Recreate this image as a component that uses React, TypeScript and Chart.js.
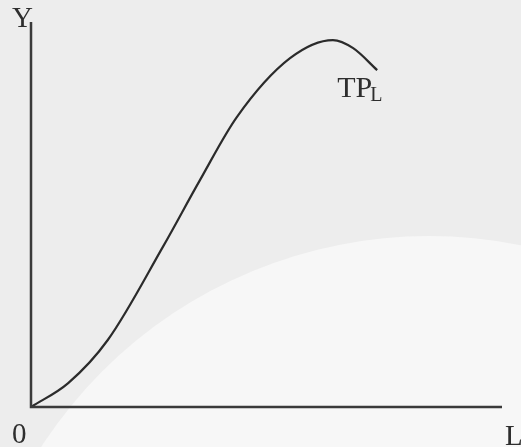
import React, { useEffect, useRef } from "react";
import { Chart, registerables } from "chart.js";

Chart.register(...registerables);

// Labour input (L) and total product (TP_L), in arbitrary units 0–100
const laborInput = [0, 7.9, 16.3, 28.0, 35.9, 43.7, 55.0, 64.1, 68.4, 73.5];
const totalProduct = [0, 6.2, 17.4, 41.6, 59.0, 75.3, 90.6, 95.3, 93.2, 87.5];

const axisLabelX = "L";
const axisLabelY = "Y";
const originLabel = "0";
const curveLabel = "TP";
const curveSub = "L";

const SERIF = '"Liberation Serif", "Times New Roman", Times, serif';

const decorPlugin = {
  id: "decor",
  beforeDraw(chart: any) {
    const { ctx, width, height } = chart;
    ctx.save();
    ctx.fillStyle = "#ededed";
    ctx.fillRect(0, 0, width, height);
    ctx.fillStyle = "#f7f7f7";
    ctx.beginPath();
    ctx.arc(429, 698, 462, 0, Math.PI * 2);
    ctx.fill();
    ctx.restore();
  },
  afterDatasetsDraw(chart: any) {
    const { ctx, chartArea } = chart;
    const { left, right, top, bottom } = chartArea;
    ctx.save();
    ctx.strokeStyle = "#3a3a3a";
    ctx.lineWidth = 2.5;
    ctx.beginPath();
    ctx.moveTo(left, top);
    ctx.lineTo(left, bottom);
    ctx.lineTo(right, bottom);
    ctx.stroke();

    ctx.fillStyle = "#2e2e2e";
    ctx.textBaseline = "alphabetic";
    ctx.textAlign = "left";
    ctx.font = `29px ${SERIF}`;
    ctx.fillText(axisLabelY, left - 19, top + 5);
    ctx.fillText(originLabel, left - 19, bottom + 36);
    ctx.fillText(axisLabelX, right + 3, bottom + 38);

    const xs = chart.scales.x;
    const ys = chart.scales.y;
    const lx = xs.getPixelForValue(laborInput[laborInput.length - 1]);
    const ly = ys.getPixelForValue(totalProduct[totalProduct.length - 1]);
    ctx.font = `30px ${SERIF}`;
    const tx = lx - 40;
    const ty = ly + 27;
    ctx.fillText(curveLabel, tx, ty);
    const w = ctx.measureText(curveLabel).width;
    ctx.font = `20px ${SERIF}`;
    ctx.fillText(curveSub, tx + w - 2, ty + 4);
    ctx.restore();
  },
};

export default function App() {
  const ref = useRef<HTMLCanvasElement>(null);
  useEffect(() => {
    document.body.style.margin = "0";
    const canvas = ref.current;
    if (!canvas) return;
    const chart = new Chart(canvas, {
      type: "line",
      data: {
        datasets: [
          {
            data: laborInput.map((x, i) => ({ x, y: totalProduct[i] })),
            borderColor: "#2b2b2b",
            borderWidth: 2.2,
            pointRadius: 0,
            fill: false,
            cubicInterpolationMode: "monotone",
          },
        ],
      },
      options: {
        animation: false,
        responsive: false,
        maintainAspectRatio: false,
        layout: { padding: { left: 31, right: 19, top: 22, bottom: 40 } },
        plugins: { legend: { display: false }, tooltip: { enabled: false } },
        scales: {
          x: { type: "linear", min: 0, max: 100, display: false },
          y: { type: "linear", min: 0, max: 100, display: false },
        },
      },
      plugins: [decorPlugin],
    });
    return () => chart.destroy();
  }, []);
  return <canvas ref={ref} width={521} height={447} style={{ display: "block" }} />;
}
